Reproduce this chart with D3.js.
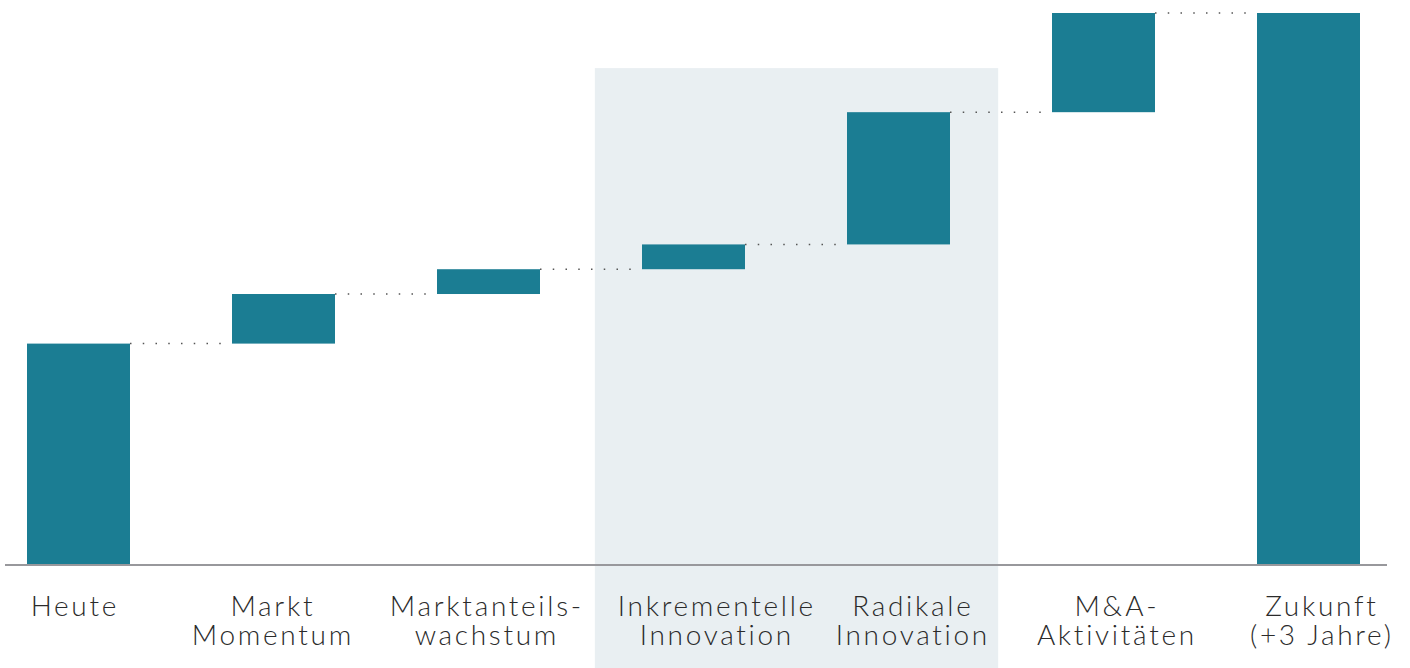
<!DOCTYPE html>
<html>
<head>
<meta charset="utf-8">
<script src="https://cdn.jsdelivr.net/npm/d3@7"></script>
<style>
  html, body { margin: 0; padding: 0; background: #ffffff; }
  svg { display: block; }
  .lbl { font-family: "Lato", "Open Sans", sans-serif; font-weight: 300; fill: #2b2b2b; letter-spacing: 2.7px; }
</style>
</head>
<body>
<svg id="chart" width="1410" height="668"></svg>
<script>
// ---- data ----
const categories = ["Heute", "Markt Momentum", "Marktanteils-wachstum", "Inkrementelle Innovation", "Radikale Innovation", "M&A-Aktivitäten", "Zukunft (+3 Jahre)"];
const labelLines = [["Heute"], ["Markt", "Momentum"], ["Marktanteils-", "wachstum"], ["Inkrementelle", "Innovation"], ["Radikale", "Innovation"], ["M&A-", "Aktivitäten"], ["Zukunft", "(+3 Jahre)"]];
const deltas = [40, 9, 4.5, 4.5, 24, 18];          // Heute + step changes
const kinds = ["total", "step", "step", "step", "step", "step", "total"];
const highlighted = ["Inkrementelle Innovation", "Radikale Innovation"];
const highlightTop = 90;

// ---- layout ----
const W = 1410, H = 668;
const baseY = 564;
const labelDx = [-5, -12, -3, 22, 13, 12, 12];

const svg = d3.select("#chart");

const x = d3.scaleBand().domain(categories).range([27, 1360]).paddingInner(0.4976).paddingOuter(0);
const y = d3.scaleLinear().domain([0, 100]).range([baseY, 13]);

// build waterfall
let running = 0;
const bars = categories.map((c, i) => {
  if (kinds[i] === "total" && i === categories.length - 1) {
    return { cat: c, y0: 0, y1: running };
  }
  const y0 = kinds[i] === "total" ? 0 : running;
  running += deltas[i];
  return { cat: c, y0: y0, y1: running };
});

// highlight band
const step = x.step();
const h0 = x(highlighted[0]) - step * 0.23;
const h1 = x(highlighted[highlighted.length - 1]) + x.bandwidth() + step * 0.235;
svg.append("rect")
  .attr("x", h0).attr("y", y(highlightTop))
  .attr("width", h1 - h0).attr("height", H - y(highlightTop))
  .attr("fill", "#e9eff2");

// connectors
for (let i = 0; i < bars.length - 1; i++) {
  const level = bars[i].y1;
  svg.append("line")
    .attr("x1", x(bars[i].cat) + x.bandwidth())
    .attr("x2", x(bars[i + 1].cat))
    .attr("y1", y(level)).attr("y2", y(level))
    .attr("stroke", "#555")
    .attr("stroke-width", 1.5)
    .attr("stroke-dasharray", "1.5 11.25");
}

// bars
svg.selectAll("rect.bar").data(bars).enter().append("rect")
  .attr("class", "bar")
  .attr("x", d => x(d.cat))
  .attr("width", x.bandwidth())
  .attr("y", d => y(d.y1))
  .attr("height", d => y(d.y0) - y(d.y1))
  .attr("fill", "#1b7d93");

// baseline axis
svg.append("line")
  .attr("x1", 5).attr("x2", 1387)
  .attr("y1", baseY + 1).attr("y2", baseY + 1)
  .attr("stroke", "#98989c").attr("stroke-width", 2);

// labels
const lg = svg.append("g");
categories.forEach((c, i) => {
  const cx = x(c) + x.bandwidth() / 2 + labelDx[i] + 1.35;
  const t = lg.append("text")
    .attr("class", "lbl")
    .attr("text-anchor", "middle")
    .attr("x", cx)
    .attr("y", 616)
    .style("font-size", "28px");
  labelLines[i].forEach((ln, j) => {
    t.append("tspan")
      .attr("x", cx)
      .attr("dy", j === 0 ? 0 : 29)
      .text(ln);
  });
});
</script>
</body>
</html>
